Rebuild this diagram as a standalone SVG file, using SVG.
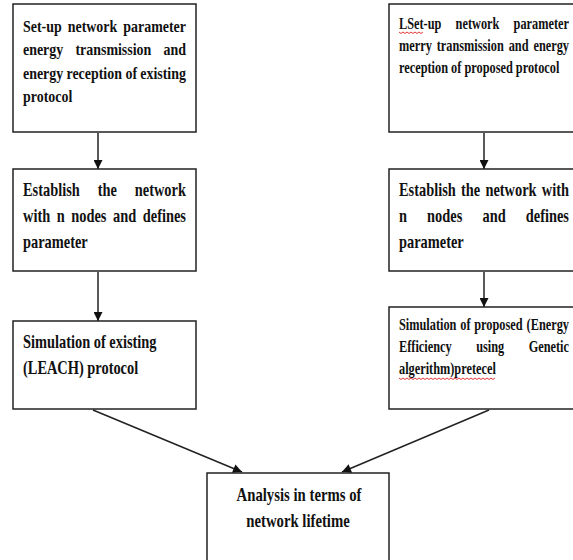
<svg xmlns="http://www.w3.org/2000/svg" width="573" height="560" viewBox="0 0 573 560">
<defs>
<style>
.box{fill:#fff;stroke:#222;stroke-width:1.5}
.t{font-family:"Liberation Serif","Times New Roman",serif;font-weight:bold;fill:#111}
.s16{font-size:16px}
.s165{font-size:16.5px}
.s18{font-size:18px}
.edge{stroke:#222;stroke-width:1.5;fill:none}
.sq{stroke:#e02020;stroke-width:0.9;fill:none}
</style>
<marker id="ah" viewBox="0 0 10 10" refX="10" refY="5" markerWidth="10" markerHeight="9" markerUnits="userSpaceOnUse" orient="auto">
<path d="M0,0 L10,5 L0,10 Z" fill="#111"/>
</marker>
</defs>
<rect width="573" height="560" fill="#fff"/>

<g id="connectors">
<line class="edge" x1="98" y1="133" x2="98" y2="169" marker-end="url(#ah)"/>
<line class="edge" x1="484" y1="133" x2="484" y2="169" marker-end="url(#ah)"/>
<line class="edge" x1="98" y1="272" x2="98" y2="321" marker-end="url(#ah)"/>
<line class="edge" x1="484" y1="272" x2="484" y2="307" marker-end="url(#ah)"/>
<line class="edge" x1="93" y1="410" x2="242" y2="472" marker-end="url(#ah)"/>
<line class="edge" x1="489" y1="410" x2="342" y2="472" marker-end="url(#ah)"/>
</g>

<g id="n1">
<rect class="box" x="13" y="4" width="183" height="128"/>
<text class="t s165" transform="translate(23,32) scale(0.845,1)"><tspan x="0">Set-up</tspan><tspan x="52.93">network</tspan><tspan x="118.68">parameter</tspan></text>
<text class="t s165" transform="translate(23,55) scale(0.845,1)"><tspan x="0">energy</tspan><tspan x="62.05">transmission</tspan><tspan x="166.3">and</tspan></text>
<text class="t s165" transform="translate(23,79) scale(0.845,1)"><tspan x="0">energy</tspan><tspan x="51.46">reception</tspan><tspan x="121.25">of</tspan><tspan x="138.8">existing</tspan></text>
<text class="t s165" transform="translate(23,102) scale(0.845,1)">protocol</text>
</g>

<g id="n2">
<rect class="box" x="389" y="4" width="200" height="128"/>
<text class="t s16" transform="translate(399,29) scale(0.77,1)"><tspan x="0">LSet-up</tspan><tspan x="73.53">network</tspan><tspan x="148.82">parameter</tspan></text>
<text class="t s16" transform="translate(399,51) scale(0.77,1)"><tspan x="0">merry</tspan><tspan x="48.99">transmission</tspan><tspan x="142.46">and</tspan><tspan x="174.6">energy</tspan></text>
<text class="t s16" transform="translate(399,73) scale(0.77,1)">reception of proposed protocol</text>
<path class="sq" d="M399,32 l2,1.5 l2,-1.5 l2,1.5 l2,-1.5 l2,1.5 l2,-1.5 l2,1.5 l2,-1.5 l2,1.5 l2,-1.5 l2,1.5 l2,-1.5"/>
</g>

<g id="n3">
<rect class="box" x="13" y="169" width="183" height="102"/>
<text class="t s18" transform="translate(23,196) scale(0.8,1)"><tspan x="0">Establish</tspan><tspan x="93.4">the</tspan><tspan x="139.76">network</tspan></text>
<text class="t s18" transform="translate(23,222) scale(0.8,1)"><tspan x="0">with</tspan><tspan x="42.18">n</tspan><tspan x="60.37">nodes</tspan><tspan x="112.56">and</tspan><tspan x="149.76">defines</tspan></text>
<text class="t s18" transform="translate(23,248) scale(0.8,1)">parameter</text>
</g>

<g id="n4">
<rect class="box" x="389" y="169" width="200" height="102"/>
<text class="t s18" transform="translate(399,196) scale(0.8,1)"><tspan x="0">Establish</tspan><tspan x="77.53">the</tspan><tspan x="108.02">network</tspan><tspan x="178.51">with</tspan></text>
<text class="t s18" transform="translate(399,222) scale(0.8,1)"><tspan x="0">n</tspan><tspan x="35.16">nodes</tspan><tspan x="104.32">and</tspan><tspan x="158.49">defines</tspan></text>
<text class="t s18" transform="translate(399,248) scale(0.8,1)">parameter</text>
</g>

<g id="n5">
<rect class="box" x="13" y="321" width="183" height="88"/>
<text class="t s18" transform="translate(23,348) scale(0.8,1)">Simulation of existing</text>
<text class="t s18" transform="translate(23,374) scale(0.8,1)">(LEACH) protocol</text>
</g>

<g id="n6">
<rect class="box" x="389" y="307" width="200" height="102"/>
<text class="t s16" transform="translate(399,330) scale(0.77,1)"><tspan x="0">Simulation</tspan><tspan x="79.54">of</tspan><tspan x="97.72">proposed</tspan><tspan x="165.69">(Energy</tspan></text>
<text class="t s16" transform="translate(399,352) scale(0.77,1)"><tspan x="0">Efficiency</tspan><tspan x="100.17">using</tspan><tspan x="168.37">Genetic</tspan></text>
<text class="t s16" transform="translate(399,374) scale(0.77,1)">algerithm)pretecel</text>
<path class="sq" d="M399,378 l2,1.5 l2,-1.5 l2,1.5 l2,-1.5 l2,1.5 l2,-1.5 l2,1.5 l2,-1.5 l2,1.5 l2,-1.5 l2,1.5 l2,-1.5 l2,1.5 l2,-1.5 l2,1.5 l2,-1.5 l2,1.5 l2,-1.5 l2,1.5 l2,-1.5 l2,1.5 l2,-1.5 l2,1.5 l2,-1.5 l2,1.5 l2,-1.5 l2,1.5 l2,-1.5 l2,1.5 l2,-1.5 l2,1.5 l2,-1.5 l2,1.5 l2,-1.5 l2,1.5 l2,-1.5 l2,1.5 l2,-1.5 l2,1.5 l2,-1.5 l2,1.5 l2,-1.5 l2,1.5 l2,-1.5 l2,1.5 l2,-1.5 l2,1.5 l2,-1.5"/>
</g>

<g id="n7">
<rect class="box" x="207" y="473" width="182" height="100"/>
<text class="t s18" text-anchor="middle" transform="translate(299,501) scale(0.82,1)">Analysis in terms of</text>
<text class="t s18" text-anchor="middle" transform="translate(298,527) scale(0.82,1)">network lifetime</text>
</g>
</svg>
